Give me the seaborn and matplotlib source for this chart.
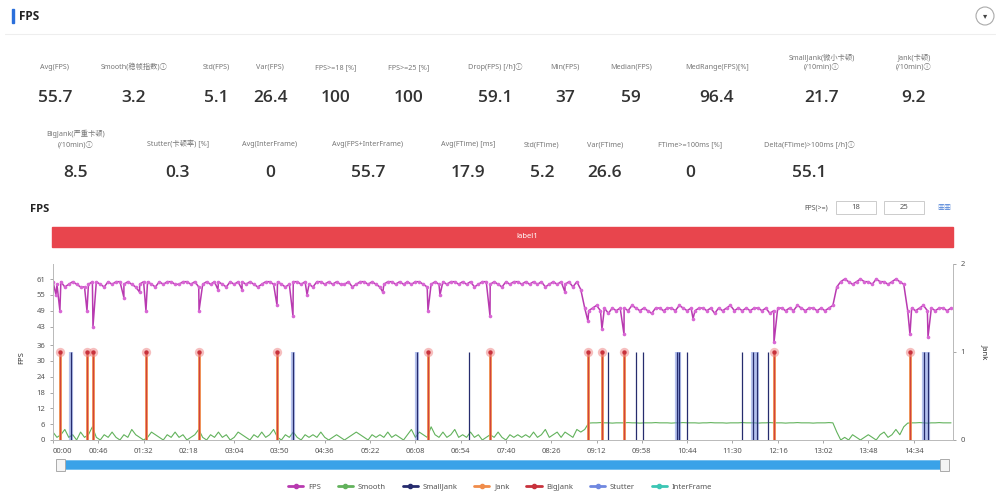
import numpy as np
import pandas as pd
import matplotlib.pyplot as plt
import seaborn as sns
from matplotlib.lines import Line2D
from matplotlib.patches import Rectangle, FancyBboxPatch, Ellipse

# FPS sampled every 4 s (00:00 .. 15:12)
fps_values = [
    60, 59, 60, 58, 59, 60, 59, 58, 58, 59,
    60, 60, 59, 58, 60, 59, 60, 60, 59, 60,
    59, 58, 59, 60, 60, 59, 58, 60, 59, 60,
    60, 59, 59, 60, 60, 59, 60, 58, 59, 60,
    59, 60, 60, 59, 58, 60, 59, 60, 60, 59,
    60, 59, 58, 59, 60, 60, 59, 60, 59, 58,
    59, 60, 60, 59, 60, 59, 58, 60, 60, 59,
    60, 59, 60, 59, 59, 60, 58, 59, 60, 60,
    59, 60, 59, 58, 59, 60, 60, 59, 60, 59,
    60, 59, 60, 60, 59, 58, 59, 60, 59, 60,
    59, 60, 60, 59, 60, 59, 60, 58, 59, 60,
    60, 59, 60, 59, 58, 60, 59, 60, 60, 59,
    60, 59, 60, 59, 60, 58, 59, 60, 59, 60,
    59, 60, 58, 60, 57,
    50, 49, 50, 51, 49, 50, 48, 50, 49, 50,
    50, 49, 51, 50, 49, 50, 49, 48, 50, 50,
    49, 50, 50, 49, 51, 50, 49, 50, 49, 50,
    50, 49, 50, 48, 50, 49, 50, 51, 49, 50,
    49, 50, 49, 50, 50, 49, 50, 48, 49, 50,
    50, 49, 50, 49, 51, 50, 49, 50, 50, 49,
    50, 49, 50, 51,
    58, 60, 61, 60, 59, 60, 61, 60, 60, 59, 61, 60, 60, 59, 60, 61, 60, 59,
    49, 50, 49, 50, 51, 49, 50, 49, 50, 50, 49, 50,
]
# single-frame FPS drops (seconds, fps)
dip_times = [3, 7, 34.5, 40.6, 72, 88, 94.4, 148.3, 167.5, 192, 227.5, 243.7, 258,
             335, 380.8, 393, 443.8, 520, 543.3, 557.5, 579.9, 650, 732.2, 870.3, 888.6]
dip_values = [55, 49, 49, 43, 54, 56, 49, 49, 57, 57, 51, 47, 55,
              56, 49, 55, 47, 56, 45, 42, 40, 46, 37, 40, 39]

smooth_values = [
    3, 1, 2, 4, 1, 2, 0, 3, 1, 2,
    5, 1, 0, 2, 1, 3, 1, 0, 2, 1,
    4, 2, 1, 0, 1, 3, 2, 1, 0, 2,
    1, 3, 1, 2, 0, 1, 2, 4, 1, 0,
    2, 1, 3, 1, 2, 0, 1, 3, 2, 1,
    0, 2, 1, 3, 1, 2, 4, 1, 0, 2,
    1, 3, 1, 0, 2, 1, 2, 1, 3, 1,
    0, 1, 2, 1, 0, 1, 2, 3, 2, 1,
    0, 2, 1, 2, 1, 3, 1, 2, 1, 0,
    2, 4, 1, 3, 2, 1, 5, 2, 1, 3,
    1, 2, 4, 1, 2, 1, 3, 1, 2, 0,
    1, 2, 1, 3, 1, 0, 2, 1, 2, 1,
    2, 1, 3, 1, 2, 4, 1, 2, 3, 1,
    3, 2, 1, 4, 3,
    4, 6.4, 6.5, 6.5, 6.6, 6.5, 6.5, 6.4, 6.5, 6.5,
    6.5, 6.6, 6.5, 6.5, 6.4, 6.5, 6.5, 6.5, 6.6, 6.5,
    6.5, 6.5, 6.4, 6.5, 6.5, 6.6, 6.5, 6.5, 6.5, 6.4,
    6.5, 6.5, 6.6, 6.5, 6.5, 6.5, 6.4, 6.5, 6.5, 6.5,
    6.6, 6.5, 6.5, 6.5, 6.4, 6.5, 6.5, 6.6, 6.5, 6.5,
    6.5, 6.4, 6.5, 6.5, 6.6, 6.5, 6.5, 6.5, 6.4, 6.5,
    6.5, 6.5, 6.6, 6.5,
    3, 0, 1, 0, 2, 1, 0, 1, 2, 1, 0, 2, 3, 1, 2, 4, 2, 5,
    6.4, 6.5, 6.5, 6.6, 6.5, 6.4, 6.5, 6.5, 6.6, 6.5, 6.5, 6.5,
]

jank_times = [7.1, 34.5, 40.6, 94.4, 148.3, 227.5, 380.8, 443.8, 543.3, 557.5, 579.9, 732.2, 870.3]
bigjank_times = [7.1, 34.5, 40.6, 94.4, 148.3, 227.5, 380.8, 443.8, 543.3, 557.5, 579.9, 732.2, 870.3]
smalljank_times = [18.3, 243.7, 369.6, 422.4, 563.6, 592, 599, 633.7, 635.7, 643.8,
                   699.7, 710.9, 714.9, 726, 884.5, 888.6]
stutter_times = [18.3, 243.7, 369.6, 633.7, 635.7, 710.9, 714.9, 884.5, 888.6]

fps_ticks = [0, 6, 12, 18, 24, 30, 36, 43, 49, 55, 61]
time_ticks = list(range(0, 900, 46))

row1_labels = ["Avg(FPS)", "Smooth(稳帧指数)ⓘ", "Std(FPS)", "Var(FPS)", "FPS>=18 [%]",
               "FPS>=25 [%]", "Drop(FPS) [/h]ⓘ", "Min(FPS)", "Median(FPS)",
               "MedRange(FPS)[%]", "SmallJank(微小卡顿)\n(/10min)ⓘ", "Jank(卡顿)\n(/10min)ⓘ"]
row1_values = ["55.7", "3.2", "5.1", "26.4", "100", "100", "59.1", "37", "59", "96.4", "21.7", "9.2"]
row2_labels = ["BigJank(严重卡顿)\n(/10min)ⓘ", "Stutter(卡顿率) [%]", "Avg(InterFrame)",
               "Avg(FPS+InterFrame)", "Avg(FTime) [ms]", "Std(FTime)", "Var(FTime)",
               "FTime>=100ms [%]", "Delta(FTime)>100ms [/h]ⓘ"]
row2_values = ["8.5", "0.3", "0", "55.7", "17.9", "5.2", "26.6", "0", "55.1"]

legend_names = ["FPS", "Smooth", "SmallJank", "Jank", "BigJank", "Stutter", "InterFrame"]

sns.set_theme(style="white")
plt.rcParams['font.family'] = ['Noto Sans', 'Noto Sans CJK SC', 'DejaVu Sans']
value_font = ['Open Sans', 'DejaVu Sans']

c_fps = "#b83ab0"
c_fps_pt = "#d866d4"
c_smooth = "#62b25c"
c_small = "#262c6e"
c_jank = "#f08c4a"
c_big = "#c8323c"
c_stutter = "#7088e0"
c_inter = "#3cc6b4"
c_text = "#555555"

W, H = 1000, 497
fx = lambda x: x / W
fy = lambda y: 1 - y / H

fig = plt.figure(figsize=(10, 4.97), dpi=100)

# header
fig.patches.append(Rectangle((fx(12), fy(23)), 2 / W, 14 / H, transform=fig.transFigure,
                             color="#2a6fdb", zorder=5))
fig.text(fx(19), fy(16), "FPS", fontsize=8.5, fontweight="bold", family=value_font,
         color="#222", va="center")
fig.patches.append(Ellipse((fx(985), fy(16)), 18 / W, 18 / H, transform=fig.transFigure,
                           fill=False, ec="#aaaaaa", lw=0.8))
fig.text(fx(985), fy(16), "▾", fontsize=6, color="#444", ha="center", va="center")
fig.lines.append(Line2D([fx(5), fx(995)], [fy(34), fy(34)], transform=fig.transFigure,
                        color="#eeeeee", lw=0.8))

# metric cards
row1_x = [55, 134, 216, 270, 336, 409, 495, 565, 631, 717, 822, 914]
row2_x = [76, 178, 270, 368, 468, 542, 605, 690, 809]
for lbl, val, x in zip(row1_labels, row1_values, row1_x):
    fig.text(fx(x), fy(71), lbl, fontsize=5.2, color="#777", ha="center", va="bottom",
             linespacing=1.5)
    fig.text(fx(x), fy(98), val, fontsize=12.5, fontweight="semibold", family=value_font,
             color="#333", ha="center", va="center")
for lbl, val, x in zip(row2_labels, row2_values, row2_x):
    fig.text(fx(x), fy(148), lbl, fontsize=5.2, color="#777", ha="center", va="bottom",
             linespacing=1.5)
    fig.text(fx(x), fy(173), val, fontsize=12.5, fontweight="semibold", family=value_font,
             color="#333", ha="center", va="center")

# chart header
fig.text(fx(30), fy(210), "FPS", fontsize=8, fontweight="bold", family=value_font,
         color="#222", va="center")
fig.text(fx(828), fy(208), "FPS(>=)", fontsize=5, color="#555", ha="right", va="center")
for x0, txt in [(836, "18"), (884, "25")]:
    fig.patches.append(Rectangle((fx(x0), fy(214)), 40 / W, 13 / H, transform=fig.transFigure,
                                 fill=False, ec="#cccccc", lw=0.7))
    fig.text(fx(x0 + 20), fy(207.5), txt, fontsize=5.5, color="#555", ha="center", va="center")
fig.text(fx(944), fy(208), "▦▦", fontsize=5, color="#4a7fd6", ha="center", va="center")

fig.patches.append(Rectangle((fx(52), fy(247)), 901 / W, 20 / H, transform=fig.transFigure,
                             color="#e8454d"))
fig.text(fx(527), fy(237), "label1", fontsize=5.5, color="white", ha="center", va="center")

# main chart
ax = fig.add_axes([fx(53), fy(440), 900 / W, 176 / H])
ax2 = ax.twinx()

t_grid = np.arange(len(fps_values)) * 4
fps_df = pd.concat([
    pd.DataFrame({"t": t_grid, "fps": fps_values}),
    pd.DataFrame({"t": dip_times, "fps": dip_values}),
]).sort_values("t")
smooth_df = pd.DataFrame({"t": t_grid, "smooth": smooth_values})

sns.lineplot(data=smooth_df, x="t", y="smooth", ax=ax, color=c_smooth, lw=0.8,
             estimator=None, sort=True)
sns.lineplot(data=fps_df, x="t", y="fps", ax=ax, color=c_fps, lw=1.1, marker="o",
             markersize=2.6, markerfacecolor=c_fps_pt, markeredgewidth=0,
             estimator=None, sort=True)

ax2.vlines(stutter_times, 0, 1, color=c_stutter, lw=3, alpha=0.5)
ax2.vlines(smalljank_times, 0, 1, color=c_small, lw=0.9)
ax2.vlines(jank_times, 0, 1, color=c_jank, lw=2)
ax2.vlines(bigjank_times, 0, 1, color=c_big, lw=0.8, alpha=0.8)
ax2.scatter(bigjank_times, [1] * len(bigjank_times), s=45, color="#f08a8a", alpha=0.55,
            lw=0, zorder=4)
ax2.scatter(bigjank_times, [1] * len(bigjank_times), s=10, color=c_big, lw=0, zorder=5)

ax.set_xlim(0, 914)
ax.set_ylim(0, 66.7)
ax2.set_ylim(0, 2)
ax.set_yticks(fps_ticks)
ax.set_yticklabels([str(v) for v in fps_ticks])
ax2.set_yticks([0, 1, 2])
ax.set_xticks(time_ticks)
ax.set_xticklabels([f"{t // 60:02d}:{t % 60:02d}" for t in time_ticks])
ax.get_xticklabels()[0].set_horizontalalignment("left")
ax.set_xlabel("")
ax.set_ylabel("")

for a in (ax, ax2):
    a.tick_params(axis="both", labelsize=5.5, labelcolor=c_text, length=2.5, width=0.6,
                  color="#999999", pad=3, direction="out")
    a.spines["top"].set_visible(False)
    for s in ("left", "right", "bottom"):
        a.spines[s].set_color("#bbbbbb")
        a.spines[s].set_linewidth(0.7)
ax.tick_params(axis="y", left=True)
ax.tick_params(axis="x", bottom=True)
ax2.tick_params(axis="y", right=True)

fig.text(fx(22), fy(358), "FPS", fontsize=5.5, color="#333", rotation=90, ha="center", va="center")
fig.text(fx(985), fy(352), "Jank", fontsize=5.5, color="#333", rotation=270,
         ha="center", va="center")

# zoom slider
fig.patches.append(FancyBboxPatch((fx(60), fy(469)), 884 / W, 8 / H,
                                  boxstyle="round,pad=0,rounding_size=0.003",
                                  transform=fig.transFigure, color="#3aa2e8"))
for hx in (56, 940):
    fig.patches.append(Rectangle((fx(hx), fy(471)), 9 / W, 12 / H, transform=fig.transFigure,
                                 fc="#f4f4f4", ec="#aaaaaa", lw=0.7, zorder=6))

# legend
colors = [c_fps, c_smooth, c_small, c_jank, c_big, c_stutter, c_inter]
handles = [Line2D([0], [0], color=c, lw=2, marker="o", markersize=3) for c in colors]
fig.legend(handles, legend_names, loc="center", bbox_to_anchor=(fx(500), fy(487)),
           ncol=7, frameon=False, fontsize=5.5, handlelength=2, columnspacing=2.2,
           handletextpad=0.6, labelcolor=c_text)

fig.savefig("out.png", dpi=100, facecolor="white")
